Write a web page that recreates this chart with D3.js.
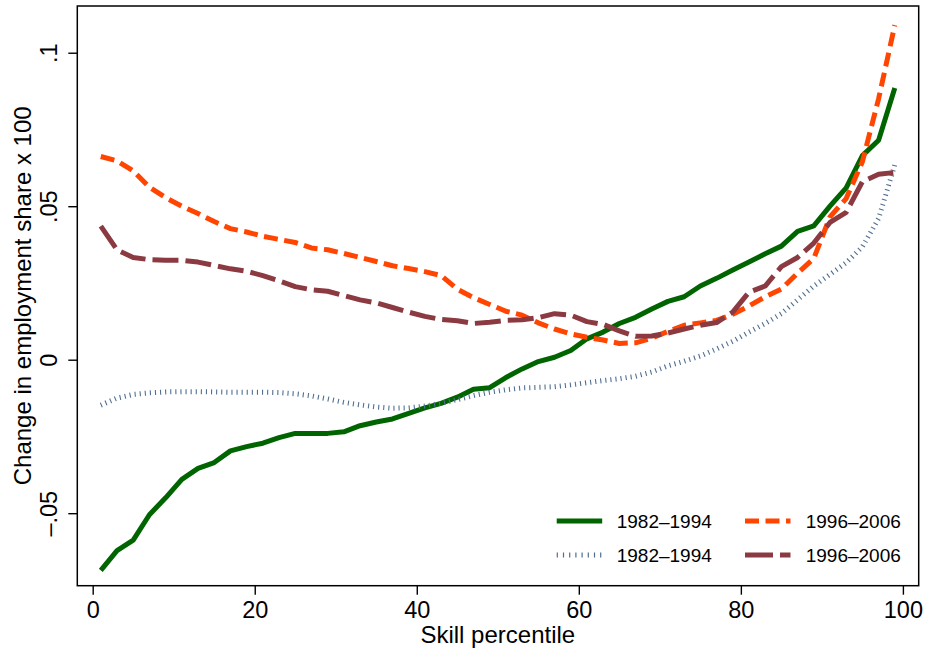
<!DOCTYPE html>
<html>
<head>
<meta charset="utf-8">
<script src="https://cdn.jsdelivr.net/npm/d3@7"></script>
<style>
  html, body { margin: 0; padding: 0; background: #fff; }
  svg { display: block; font-family: "Liberation Sans", Arial, Helvetica, sans-serif; }
</style>
</head>
<body>
<svg id="chart" width="927" height="653"></svg>
<script>
// skill percentiles (odd ones), shared by all four series
var percentiles = [1, 3, 5, 7, 9, 11, 13, 15, 17, 19, 21, 23, 25, 27, 29, 31, 33, 35, 37, 39,
  41, 43, 45, 47, 49, 51, 53, 55, 57, 59, 61, 63, 65, 67, 69, 71, 73, 75, 77, 79,
  81, 83, 85, 87, 89, 91, 93, 95, 97, 99];

// change in employment share x 100
var solid8294 = [-0.0686, -0.0622, -0.0588, -0.0505, -0.0450, -0.0390, -0.0354, -0.0335, -0.0297, -0.0283,
  -0.0272, -0.0254, -0.0240, -0.0240, -0.0240, -0.0235, -0.0215, -0.0203, -0.0193, -0.0175,
  -0.0157, -0.0142, -0.0122, -0.0096, -0.0091, -0.0058, -0.0030, -0.0006, 0.0008, 0.0030,
  0.0068, 0.0090, 0.0118, 0.0138, 0.0165, 0.0190, 0.0205, 0.0240, 0.0265, 0.0292,
  0.0318, 0.0345, 0.0370, 0.0418, 0.0436, 0.0500, 0.0560, 0.0665, 0.0715, 0.0885];

var dotted8294 = [-0.0148, -0.0125, -0.0113, -0.0108, -0.0105, -0.0104, -0.0104, -0.0105, -0.0106, -0.0106,
  -0.0106, -0.0107, -0.0111, -0.0118, -0.0128, -0.0139, -0.0147, -0.0154, -0.0158, -0.0157,
  -0.0151, -0.0142, -0.0130, -0.0117, -0.0106, -0.0098, -0.0092, -0.0090, -0.0088, -0.0082,
  -0.0075, -0.0068, -0.0062, -0.0054, -0.0040, -0.0020, -0.0005, 0.0012, 0.0035, 0.0060,
  0.0090, 0.0118, 0.0150, 0.0195, 0.0240, 0.0278, 0.0316, 0.0368, 0.0460, 0.0635];

var dash9606 = [0.0662, 0.0648, 0.0615, 0.0562, 0.0528, 0.0500, 0.0476, 0.0450, 0.0427, 0.0416,
  0.0402, 0.0392, 0.0382, 0.0364, 0.0358, 0.0346, 0.0333, 0.0320, 0.0306, 0.0297,
  0.0287, 0.0274, 0.0230, 0.0202, 0.0180, 0.0158, 0.0145, 0.0120, 0.0100, 0.0084,
  0.0073, 0.0064, 0.0053, 0.0055, 0.0070, 0.0092, 0.0112, 0.0120, 0.0128, 0.0148,
  0.0175, 0.0205, 0.0230, 0.0282, 0.0330, 0.0465, 0.0525, 0.0645, 0.0850, 0.1090];

var longdash9606 = [0.0435, 0.0358, 0.0333, 0.0326, 0.0324, 0.0324, 0.0318, 0.0307, 0.0296, 0.0288,
  0.0274, 0.0257, 0.0238, 0.0228, 0.0223, 0.0209, 0.0195, 0.0185, 0.0170, 0.0155,
  0.0141, 0.0131, 0.0127, 0.0118, 0.0122, 0.0128, 0.0130, 0.0137, 0.0150, 0.0145,
  0.0124, 0.0115, 0.0094, 0.0076, 0.0077, 0.0087, 0.0100, 0.0112, 0.0121, 0.0155,
  0.0220, 0.0240, 0.0303, 0.0333, 0.0380, 0.0447, 0.0480, 0.0580, 0.0604, 0.0610];

var xTicks = [0, 20, 40, 60, 80, 100];
var yTicks = [-0.05, 0, 0.05, 0.1];
var legendLabels = ["1982\u20131994", "1996\u20132006", "1982\u20131994", "1996\u20132006"];

var svg = d3.select("#chart");
var W = 927, H = 653;
var box = { left: 77.3, right: 918.7, top: 6, bottom: 585.7 };

svg.append("rect").attr("width", W).attr("height", H).attr("fill", "#fff");

var x = d3.scaleLinear().domain([-1.9, 101.95]).range([box.left, box.right]);
var y = d3.scaleLinear().domain([-0.07362, 0.11522]).range([box.bottom, box.top]);

// series styles, in legend order (row-wise: green, orange / dotted, maroon)
var series = [
  { name: "solid", values: solid8294, color: "#006400", width: 5, dash: null },
  { name: "dash", values: dash9606, color: "#ff4500", width: 5, dash: "14,6.5" },
  { name: "dot", values: dotted8294, color: "#4f6f92", width: 5, dash: "1.1,4" },
  { name: "longdash", values: longdash9606, color: "#8b3a41", width: 5, dash: "26,7" }
];

var line = d3.line()
  .x(function(d) { return x(d.p); })
  .y(function(d) { return y(d.v); });

var drawOrder = [0, 2, 1, 3];
drawOrder.forEach(function(i) {
  var s = series[i];
  var pts = percentiles.map(function(p, j) { return { p: p, v: s.values[j] }; });
  svg.append("path")
    .datum(pts)
    .attr("class", "series " + s.name)
    .attr("fill", "none")
    .attr("stroke", s.color)
    .attr("stroke-width", s.width)
    .attr("stroke-linejoin", "round")
    .attr("stroke-dasharray", s.dash)
    .attr("d", line);
});

// x axis
var xAxis = svg.append("g")
  .attr("transform", "translate(0," + box.bottom + ")")
  .call(d3.axisBottom(x).tickValues(xTicks).tickSize(9).tickPadding(7).tickFormat(d3.format("d")));
xAxis.select(".domain").remove();
xAxis.selectAll("line").attr("stroke", "#000").attr("stroke-width", 1.4);
xAxis.selectAll("text").attr("font-size", 23.5).attr("fill", "#000")
  .attr("font-family", "Liberation Sans, Arial, sans-serif");

// y axis, labels turned like the original
var yFmt = function(d) {
  if (d === 0) return "0";
  var s = String(Math.abs(d)).replace(/^0/, "");
  return (d < 0 ? "\u2013" : "") + s;
};
var yAxis = svg.append("g")
  .attr("transform", "translate(" + box.left + ",0)")
  .call(d3.axisLeft(y).tickValues(yTicks).tickSize(9).tickFormat(yFmt));
yAxis.select(".domain").remove();
yAxis.selectAll("line").attr("stroke", "#000").attr("stroke-width", 1.4);
yAxis.selectAll("text")
  .attr("font-size", 23.5).attr("fill", "#000")
  .attr("font-family", "Liberation Sans, Arial, sans-serif")
  .attr("x", null).attr("dy", null)
  .attr("text-anchor", "middle")
  .attr("transform", "translate(-20.5,0) rotate(-90)");

// plot frame
svg.append("rect")
  .attr("x", box.left).attr("y", box.top)
  .attr("width", box.right - box.left).attr("height", box.bottom - box.top)
  .attr("fill", "none").attr("stroke", "#000").attr("stroke-width", 1.5);

// axis titles
svg.append("text")
  .attr("x", (x(0) + x(100)) / 2).attr("y", 643)
  .attr("text-anchor", "middle").attr("font-size", 24)
  .text("Skill percentile");

svg.append("text")
  .attr("transform", "translate(31," + ((box.top + box.bottom) / 2) + ") rotate(-90)")
  .attr("text-anchor", "middle").attr("font-size", 24)
  .text("Change in employment share x 100");

// legend
var legendPos = [
  { sx: 556.7, tx: 616.7, ly: 521 },
  { sx: 745, tx: 805.7, ly: 521 },
  { sx: 556.7, tx: 616.7, ly: 555 },
  { sx: 745, tx: 805.7, ly: 555 }
];
var legend = svg.append("g").attr("class", "legend");
series.forEach(function(s, i) {
  var p = legendPos[i];
  legend.append("line")
    .attr("x1", p.sx).attr("x2", p.sx + 45.5)
    .attr("y1", p.ly).attr("y2", p.ly)
    .attr("stroke", s.color).attr("stroke-width", s.width)
    .attr("stroke-dasharray", s.name === "dot" ? "1.2,5" : (s.name === "longdash" ? "28,7" : s.dash));
  legend.append("text")
    .attr("x", p.tx).attr("y", p.ly + 7)
    .attr("font-size", 19)
    .text(legendLabels[i]);
});
</script>
</body>
</html>
